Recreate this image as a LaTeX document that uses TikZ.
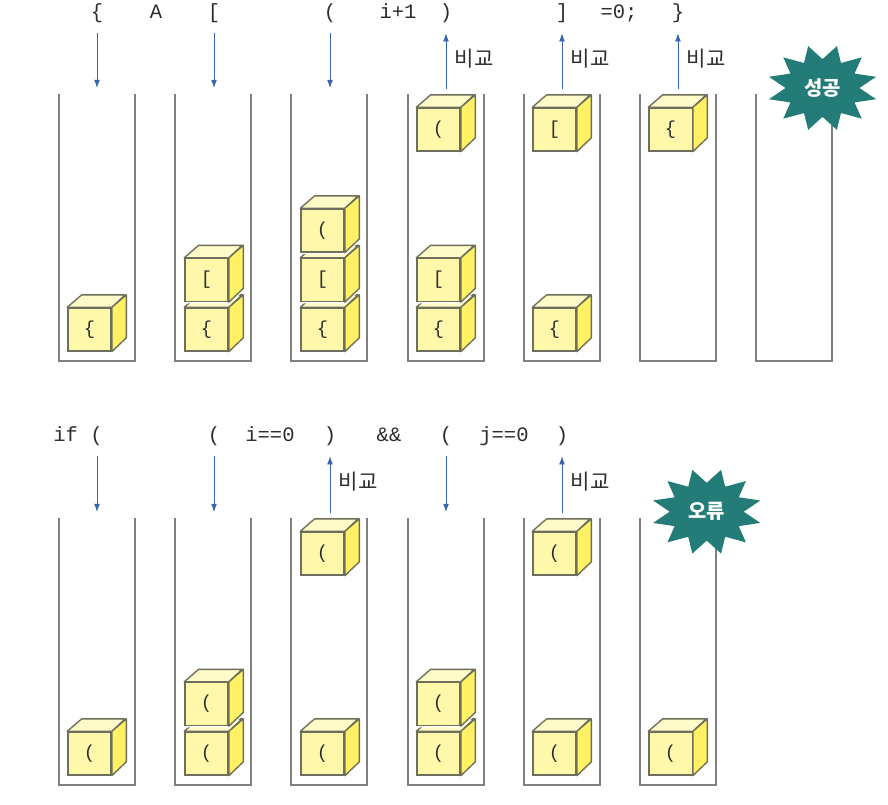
\documentclass[tikz,border=0pt]{standalone}
\usepackage{fontspec}
\setmonofont{Liberation Mono}
\newfontfamily\krfont{Noto Sans CJK KR}
\usetikzlibrary{shapes.geometric}
\usetikzlibrary{arrows.meta}
\definecolor{stackgray}{RGB}{128,128,130}
\definecolor{cubeline}{RGB}{110,110,92}
\definecolor{cubefront}{RGB}{255,248,170}
\definecolor{cubetop}{RGB}{255,251,200}
\definecolor{cubeside}{RGB}{255,240,100}
\definecolor{arrowblue}{RGB}{58,102,176}
\definecolor{bursteal}{RGB}{35,124,120}
\definecolor{codetext}{RGB}{45,45,50}
\tikzset{
    stackline/.style = {line width=2.1pt,draw=stackgray},
    cube/.style = {rectangle,draw=cubeline,line width=1.15pt,fill=cubefront,minimum width=1.3cm,minimum height=1.29cm,inner sep=0pt,font=\ttfamily\fontsize{16}{16}\selectfont,text=codetext},
    cubeface/.style = {draw=cubeline,line width=1.15pt,line join=round},
    cubehalo/.style = {draw=white,fill=white,line width=3.2pt,line join=round},
    code/.style = {inner sep=0pt,minimum height=1.2cm,text height=12pt,text depth=3pt,font=\ttfamily\fontsize{17.5}{17.5}\selectfont,text=codetext},
    edgeb/.style = {-{Latex[length=7pt,width=5pt]},line width=0.7pt,draw=arrowblue},
    cmp/.style = {inner sep=0pt,font=\krfont\fontsize{18}{18}\selectfont,text=codetext},
    burst/.style = {star,star points=12,star point ratio=1.5,shape border rotate=15,fill=bursteal,draw=none,inner sep=0pt,minimum size=2.6cm,xscale=1.28,transform shape},
    bursttext/.style = {inner sep=0pt,font=\krfont\bfseries\fontsize{17}{17}\selectfont,text=white}
}
% front face first, the other two faces hang off its corners
\newcommand{\cubeat}[4]{%
\path[cubehalo] (#2-22,#3+21.5) -- (#2-22,#3-21.5) -- (#2-7.5,#3-34) -- (#2+36.5,#3-34) -- (#2+36.5,#3+9) -- (#2+22,#3+21.5) -- cycle;
\node[cube] at (#2,#3) (#1) {#4};
\draw[cubeface,fill=cubetop] (#1.north west) -- ++(14.5,-12.5) -- ++(43.5,0) -- (#1.north east) -- cycle;
\draw[cubeface,fill=cubeside] (#1.north east) -- ++(14.5,-12.5) -- ++(0,43) -- (#1.south east) -- cycle;
}
\begin{document}
\begin{tikzpicture}[x=0.03cm,y=-0.03cm]
\useasboundingbox (0,0) rectangle (888,804);
%
\draw[stackline] (59,94) -- (59,361) -- (135,361) -- (135,94);
\draw[stackline] (175,94) -- (175,361) -- (251,361) -- (251,94);
\draw[stackline] (291,94) -- (291,361) -- (367,361) -- (367,94);
\draw[stackline] (408,94) -- (408,361) -- (484,361) -- (484,94);
\draw[stackline] (524,94) -- (524,361) -- (600,361) -- (600,94);
\draw[stackline] (640,94) -- (640,361) -- (716,361) -- (716,94);
\draw[stackline] (756,94) -- (756,361) -- (832,361) -- (832,94);
%
\draw[stackline] (59,518) -- (59,785) -- (135,785) -- (135,518);
\draw[stackline] (175,518) -- (175,785) -- (251,785) -- (251,518);
\draw[stackline] (291,518) -- (291,785) -- (367,785) -- (367,518);
\draw[stackline] (408,518) -- (408,785) -- (484,785) -- (484,518);
\draw[stackline] (524,518) -- (524,785) -- (600,785) -- (600,518);
\draw[stackline] (640,518) -- (640,785) -- (716,785) -- (716,518);
%
\cubeat{aa}{89.5}{329.5}{\{}
\cubeat{ba}{206.5}{329.5}{\{}
\cubeat{bb}{206.5}{280}{[}
\cubeat{ca}{322.5}{329.5}{\{}
\cubeat{cb}{322.5}{280}{[}
\cubeat{cc}{322.5}{230.5}{(}
\cubeat{da}{438.5}{329.5}{\{}
\cubeat{db}{438.5}{280}{[}
\cubeat{dc}{438.5}{129.5}{(}
\cubeat{ea}{554.5}{329.5}{\{}
\cubeat{eb}{554.5}{129.5}{[}
\cubeat{fa}{670.5}{129.5}{\{}
%
\cubeat{ga}{89.5}{753.5}{(}
\cubeat{ha}{206.5}{753.5}{(}
\cubeat{hb}{206.5}{704}{(}
\cubeat{ia}{322.5}{753.5}{(}
\cubeat{ib}{322.5}{553.5}{(}
\cubeat{ja}{438.5}{753.5}{(}
\cubeat{jb}{438.5}{704}{(}
\cubeat{ka}{554.5}{753.5}{(}
\cubeat{kb}{554.5}{553.5}{(}
\cubeat{la}{670.5}{753.5}{(}
%
\node[code] at (97,13) (c1) {\{};
\node[code] at (156,13) (c2) {A};
\node[code] at (214,13) (c3) {[};
\node[code] at (330,13) (c4) {(};
\node[code] at (398,13) (c5) {i+1};
\node[code] at (446,13) (c6) {)};
\node[code] at (562,13) (c7) {]};
\node[code] at (619,13) (c8) {=0;};
\node[code] at (678,13) (c9) {\}};
%
\node[code] at (78,436) (d1) {if (};
\node[code] at (214,436) (d2) {(};
\node[code] at (270,436) (d3) {i==0};
\node[code] at (330,436) (d4) {)};
\node[code] at (389,436) (d5) {\&\&};
\node[code] at (446,436) (d6) {(};
\node[code] at (504,436) (d7) {j==0};
\node[code] at (562,436) (d8) {)};
%
\coordinate (e1) at (97,88);
\coordinate (e3) at (214,88);
\coordinate (e4) at (330,88);
\coordinate (e6) at (446,89);
\coordinate (e7) at (562,89);
\coordinate (e9) at (678,89);
\coordinate (f1) at (97,512);
\coordinate (f2) at (214,512);
\coordinate (f4) at (330,513);
\coordinate (f6) at (446,512);
\coordinate (f8) at (562,513);
\coordinate (f1s) at (97,456);
%
\draw[edgeb] (c1.south) -- (e1);
\draw[edgeb] (c3.south) -- (e3);
\draw[edgeb] (c4.south) -- (e4);
\draw[edgeb] (e6) -- (c6.south);
\draw[edgeb] (e7) -- (c7.south);
\draw[edgeb] (e9) -- (c9.south);
\draw[edgeb] (f1s) -- (f1);
\draw[edgeb] (d2.south) -- (f2);
\draw[edgeb] (f4) -- (d4.south);
\draw[edgeb] (d6.south) -- (f6);
\draw[edgeb] (f8) -- (d8.south);
%
\node[cmp] at (474,59) (m1) {비교};
\node[cmp] at (590,59) (m2) {비교};
\node[cmp] at (706,59) (m3) {비교};
\node[cmp] at (358,482) (m4) {비교};
\node[cmp] at (590,482) (m5) {비교};
%
\node[burst] at (822.5,88) (s1) {};
\node[bursttext] at (s1) {성공};
\node[burst] at (706.7,511.7) (s2) {};
\node[bursttext] at (s2) {오류};
\end{tikzpicture}
\end{document}
